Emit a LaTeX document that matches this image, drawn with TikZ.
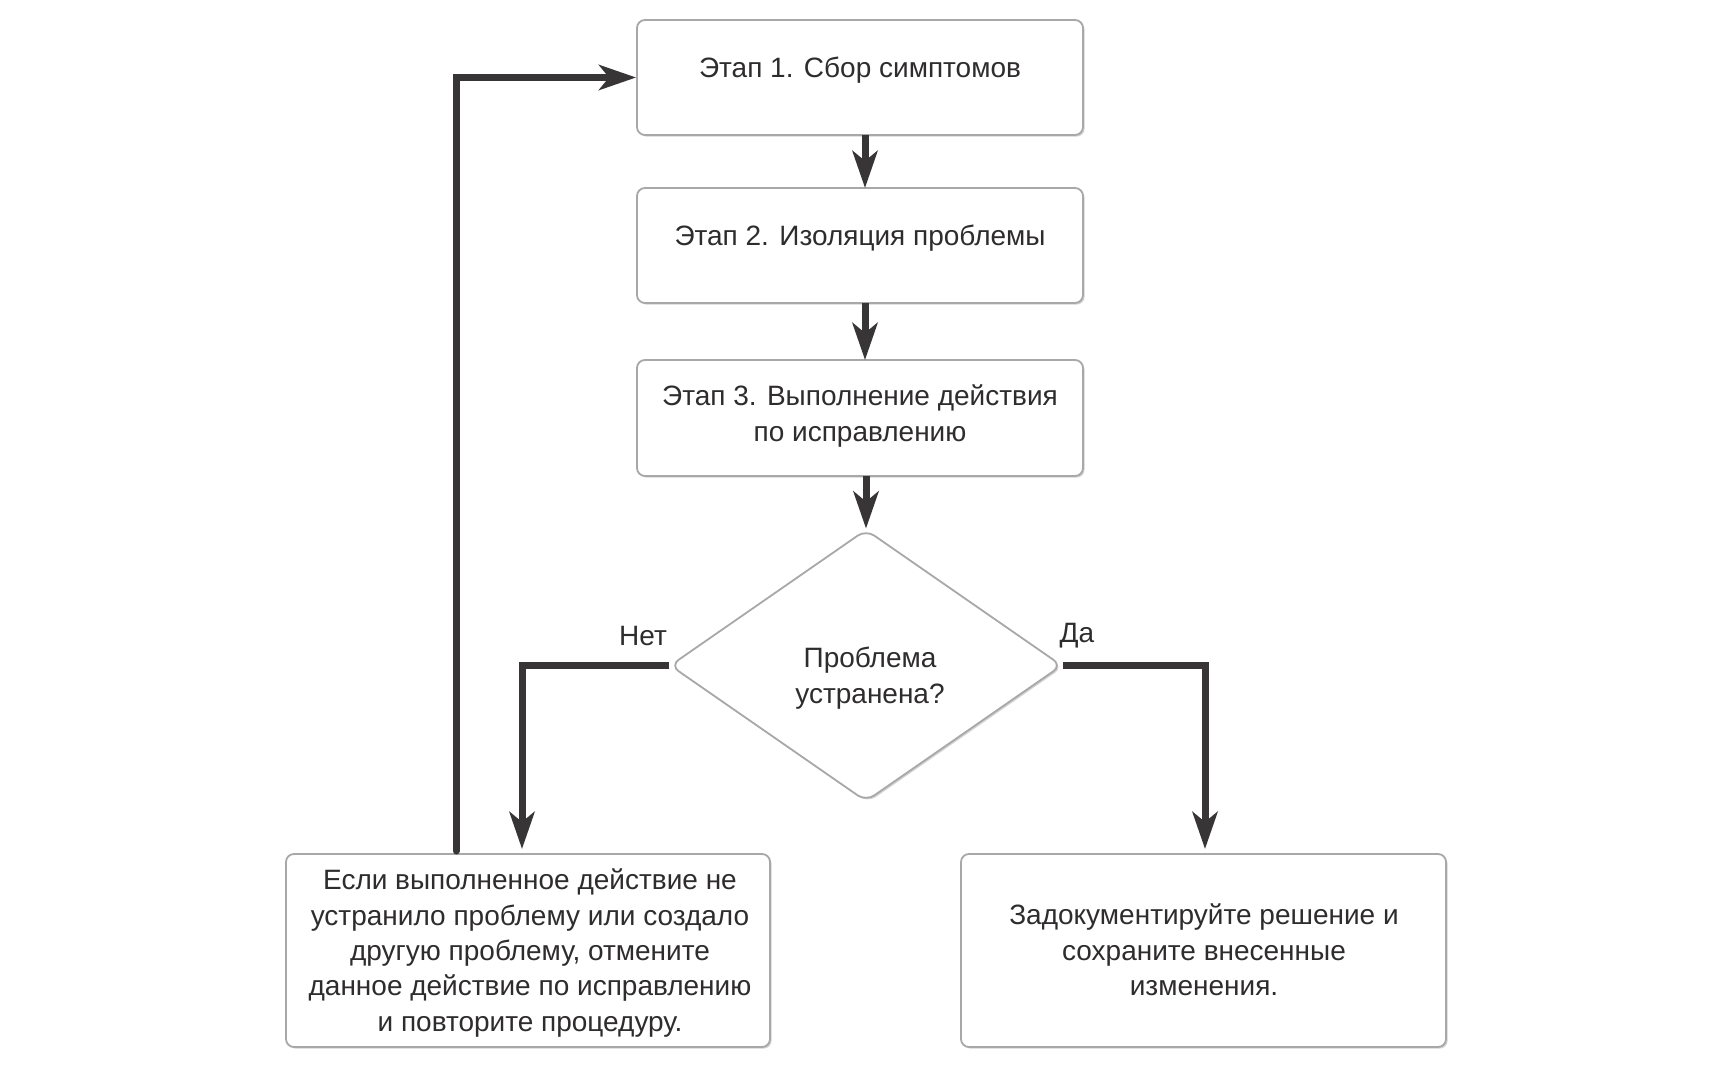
\documentclass[tikz,border=0pt]{standalone}
\usepackage{fontspec}
\setmainfont{Liberation Sans}
\usetikzlibrary{arrows.meta,shapes.geometric,shadows}
\definecolor{linec}{HTML}{383536}
\definecolor{txtc}{HTML}{2E2C2D}
\definecolor{edgec}{HTML}{A8A8A8}
\tikzset{
  box/.style={draw=edgec, line width=0.9pt, fill=white, rounded corners=4pt,
    drop shadow={opacity=0.35, shadow xshift=0.8pt, shadow yshift=-0.8pt}},
  decision/.style={diamond, draw=edgec, line width=0.9pt, fill=white, rounded corners=5pt,
    inner sep=0pt, minimum width=196pt, minimum height=136pt,
    drop shadow={opacity=0.35, shadow xshift=0.8pt, shadow yshift=-0.8pt}},
  txt/.style={text=txtc, align=center, font=\fontsize{14}{17.7}\selectfont, inner sep=0pt},
  flow/.style={draw=linec, line width=3.5pt,
    -{Stealth[length=18.5pt, width=12.5pt, inset=5pt]}},
}
\begin{document}
\begin{tikzpicture}[x=0.5pt, y=-0.5pt]
\useasboundingbox (0,0) rectangle (1733,1080);
% boxes
\node[box, minimum width=223pt, minimum height=57.5pt] (s1) at (860,77.5) {};
\node[txt] (t1) at (860,70) {Этап 1. Сбор симптомов};
\node[box, minimum width=223pt, minimum height=57.5pt] (s2) at (860,245.5) {};
\node[txt] (t2) at (860,238) {Этап 2. Изоляция проблемы};
\node[box, minimum width=223pt, minimum height=58pt] (s3) at (860,418) {};
\node[txt] (t3) at (860,416) {Этап 3. Выполнение действия\\по исправлению};
\node[decision] (d) at (866,665.5) {};
\node[txt] (td) at (870,678) {Проблема\\устранена?};
\node[box, minimum width=242pt, minimum height=96.5pt] (bl) at (528,950.5) {};
\node[txt] (tbl) at (530,953) {Если выполненное действие не\\устранило проблему или создало\\другую проблему, отмените\\данное действие по исправлению\\и повторите процедуру.};
\node[box, minimum width=242.5pt, minimum height=96.5pt] (br) at (1203.5,950.5) {};
\node[txt] (tbr) at (1204,950) {Задокументируйте решение и\\сохраните внесенные\\изменения.};
% labels
\node[txt] (no) at (643,636) {Нет};
\node[txt] (yes) at (1077,636) {Да};
% coordinates
\coordinate (a1) at (865,135);
\coordinate (a2) at (865,188);
\coordinate (a3) at (865,303);
\coordinate (a4) at (865,360);
\coordinate (a5) at (866,476);
\coordinate (nl) at (522,849);
\coordinate (yl) at (1205,849);
\coordinate (lp) at (456,851);
% connectors
\draw[flow] (a1) -- (a2);
\draw[flow] (a3) -- (a4);
\draw[flow] (a5) -- (d.north);
\draw[flow] (d.west) -| (nl);
\draw[flow] (d.east) -| (yl);
\draw[flow, line cap=round] (lp) |- (s1.west);
\end{tikzpicture}
\end{document}
